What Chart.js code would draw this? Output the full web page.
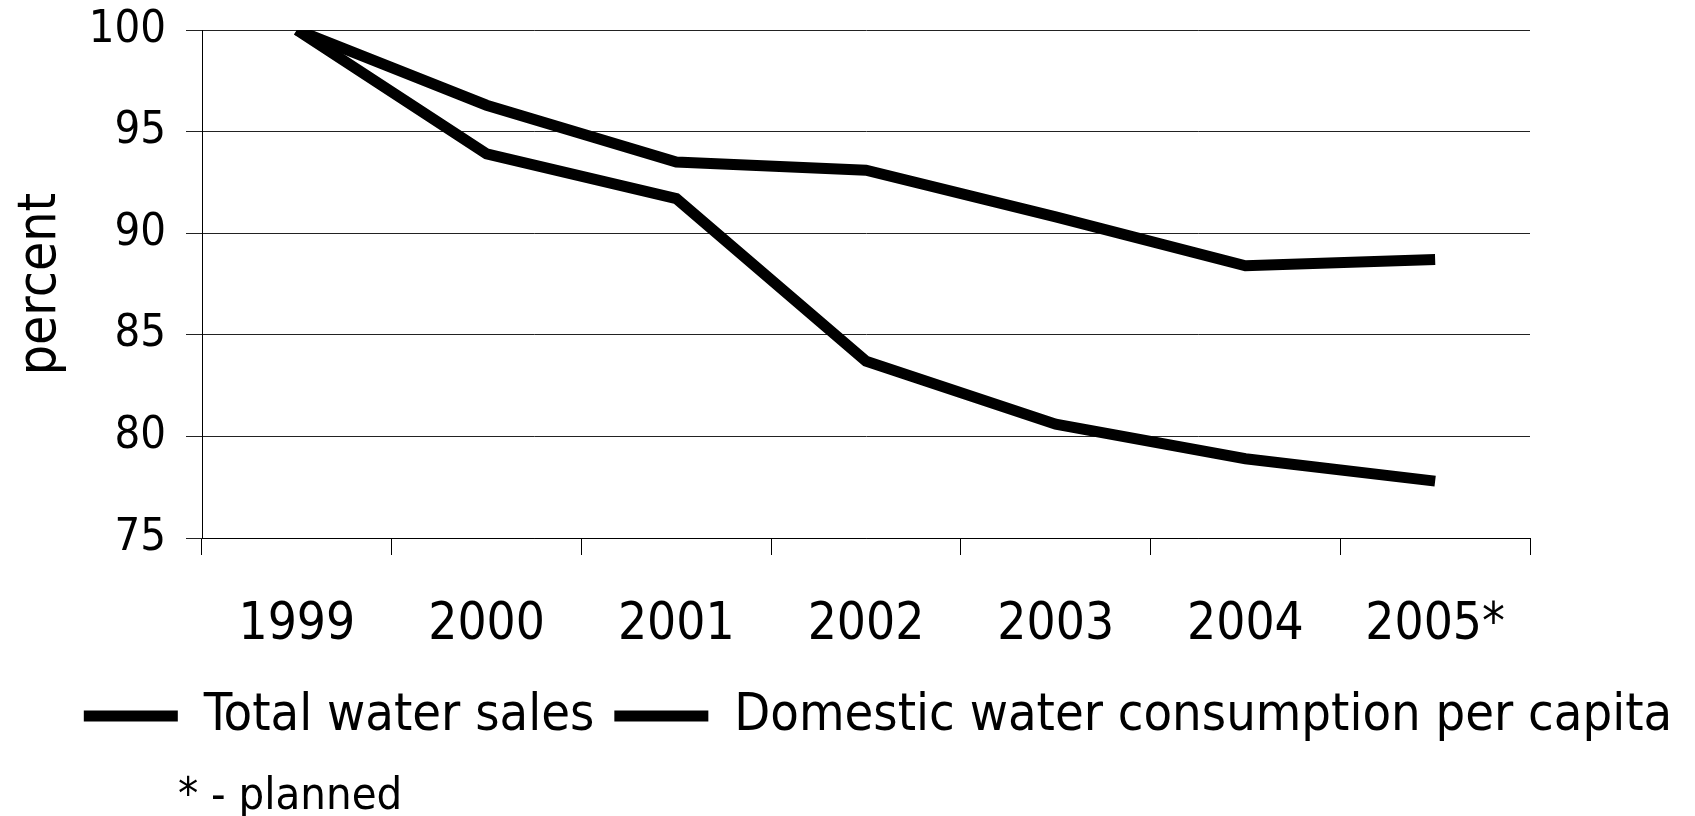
<!DOCTYPE html>
<html>
<head>
<meta charset="utf-8">
<title>Water sales and consumption</title>
<script src="https://cdn.jsdelivr.net/npm/chart.js@4/dist/chart.umd.min.js"></script>
<style>
  html, body { margin: 0; padding: 0; background: #fff; }
  #wrap { width: 1695px; height: 816px; }
</style>
</head>
<body>
<div id="wrap"><canvas id="waterChart" width="1695" height="816"></canvas></div>
<script>
// Data (index, 1999 = 100)
const years = ["1999", "2000", "2001", "2002", "2003", "2004", "2005*"];
const totalSales = [100, 93.9, 91.7, 83.7, 80.6, 78.9, 77.8];
const domesticPerCapita = [100, 96.3, 93.5, 93.1, 90.8, 88.4, 88.7];
const yTicks = [75, 80, 85, 90, 95, 100];
const seriesNames = ["Total water sales", "Domestic water consumption per capita"];
const footNote = "* - planned";

const FONT = "'DejaVu Sans Condensed', 'DejaVu Sans', sans-serif";

// Footnote under the legend
const noteText = {
  id: "noteText",
  afterDraw(chart) {
    const ctx = chart.ctx;
    const lg = chart.legend;
    ctx.save();
    ctx.font = "45px " + FONT;
    ctx.fillStyle = "#000";
    ctx.textBaseline = "middle";
    ctx.fillText(footNote, chart.chartArea.left - 24, lg.bottom + 45);
    ctx.restore();
  }
};

function lineSeries(label, values) {
  return {
    label: label,
    data: values,
    borderColor: "#000",
    backgroundColor: "#000",
    borderWidth: 11,
    pointRadius: 0,
    tension: 0,
    borderJoinStyle: "miter",
    borderCapStyle: "butt"
  };
}

document.addEventListener("DOMContentLoaded", () => {
  const ctx = document.getElementById("waterChart").getContext("2d");
  new Chart(ctx, {
    type: "line",
    data: {
      labels: years,
      datasets: [
        lineSeries(seriesNames[0], totalSales),
        lineSeries(seriesNames[1], domesticPerCapita)
      ]
    },
    options: {
      responsive: false,
      animation: false,
      layout: { padding: { top: 30, left: 61, right: 0, bottom: 64 } },
      plugins: {
        tooltip: { enabled: false },
        legend: {
          position: "bottom",
          labels: {
            font: { family: FONT, size: 52 },
            color: "#000",
            boxWidth: 94,
            boxHeight: 11,
            padding: 20,
            generateLabels(chart) {
              return chart.data.datasets.map((ds, i) => ({
                text: ds.label,
                fillStyle: "#000",
                strokeStyle: "#000",
                lineWidth: 0,
                hidden: false,
                datasetIndex: i
              }));
            }
          }
        }
      },
      scales: {
        x: {
          offset: true,
          afterFit(scale) {
            scale.height = 132;
          },
          grid: {
            offset: true,
            drawOnChartArea: false,
            color: "#000",
            tickLength: 17
          },
          border: { color: "#000", width: 1 },
          ticks: {
            font: { family: FONT, size: 51 },
            color: "#000",
            padding: 40,
            maxRotation: 0,
            autoSkip: false
          }
        },
        y: {
          min: 75,
          max: 100,
          afterBuildTicks(scale) {
            scale.ticks = yTicks.map(v => ({ value: v }));
          },
          afterFit(scale) {
            scale.width = 141;
            scale.paddingTop = 0;
            scale.paddingBottom = 0;
          },
          grid: {
            color: "#222",
            tickLength: 16
          },
          border: { color: "#000", width: 1 },
          ticks: {
            font: { family: FONT, size: 45 },
            color: "#000",
            padding: 20
          },
          title: {
            display: true,
            text: "percent",
            font: { family: FONT, size: 53 },
            color: "#000",
            padding: { top: -52, bottom: 0 }
          }
        },
        // empty right-hand margin, keeps the legend centred like the original
        yRight: {
          position: "right",
          display: true,
          grid: { display: false },
          border: { display: false },
          ticks: { display: false },
          afterFit(scale) {
            scale.width = 165;
          }
        }
      }
    },
    plugins: [noteText]
  });
});
</script>
</body>
</html>
